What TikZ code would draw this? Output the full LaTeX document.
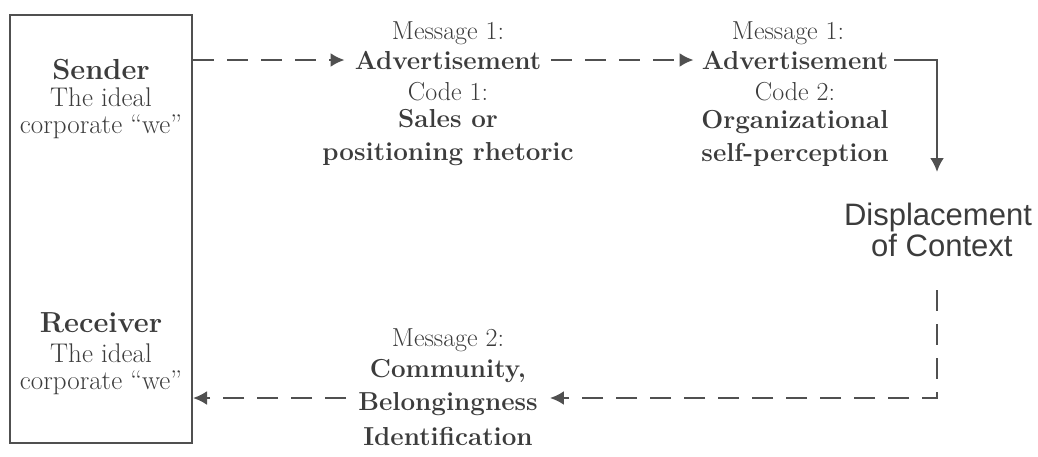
\documentclass[tikz,border=0pt]{standalone}
\usepackage{fontspec}
\setsansfont{Liberation Sans}
\usetikzlibrary{arrows.meta}
\definecolor{ink}{HTML}{3C3C3C}
\definecolor{linec}{HTML}{505050}
\begin{document}
\begin{tikzpicture}[x=1pt,y=-1pt,
  txt/.style={text=ink,font=\fontsize{26}{29}\selectfont,align=center,inner sep=0pt},
  btxt/.style={txt,font=\fontsize{26}{33}\selectfont\bfseries},
  hd/.style={txt,font=\fontsize{29}{30}\selectfont\bfseries},
  sub/.style={txt,font=\fontsize{27}{27}\selectfont},
  dsh/.style={draw=linec,line width=2.4pt,dash pattern=on 21pt off 13pt},
  sol/.style={draw=linec,line width=2.4pt},
  tip/.style={-{Latex[length=14pt,width=14pt]}}]
\useasboundingbox (0,0) rectangle (1038,456);
\node[draw=linec,line width=2pt,minimum width=182pt,minimum height=428pt,inner sep=0pt] (box) at (101,229) {};
\node[hd] (snd) at (101,70) {Sender};
\node[sub] (sndt) at (101,113) {The ideal\\corporate ``we''};
\node[hd] (rcv) at (101,323) {Receiver};
\node[sub] (rcvt) at (101,369) {The ideal\\corporate ``we''};
% block 1
\node[txt] (m1) at (448,33) {Message 1:};
\node[btxt] (a1) at (448,60) {Advertisement};
\node[txt] (c1) at (448,92) {Code 1:};
\node[btxt] (s1) at (448,138) {Sales or\\positioning rhetoric};
% block 2
\node[txt] (m2) at (788,33) {Message 1:};
\node[btxt] (a2) at (795,60) {Advertisement};
\node[txt] (c2) at (795,92) {Code 2:};
\node[btxt] (s2) at (795,138) {Organizational\\self-perception};
% displacement
\node[txt,font=\sffamily\fontsize{31}{31}\selectfont] (disp) at (938,230) {Displacement\\\hspace*{0.25em}of Context};
% message 2
\node[txt] (mm) at (448,340) {Message 2:};
\node[btxt] (cm) at (448,371) {Community,};
\node[btxt] (bl) at (448,404) {Belongingness};
\node[btxt] (id) at (448,436) {Identification};
\coordinate (tr) at (937,60);
\coordinate (dtop) at (937,172);
\coordinate (vb) at (937,290);
\coordinate (br) at (937,398);
% connectors
\draw[dsh,tip] (box.east |- a1) -- ([xshift=-10pt]a1.west);
\draw[dsh,tip] ([xshift=10pt]a1.east) -- ([xshift=-8pt]a2.west);
\draw[sol,tip] ([xshift=6pt]a2.east) -- (tr) -- (dtop);
\draw[dsh,tip] (vb) -- (br) -- ([xshift=12pt]bl.east |- br);
\draw[dsh,tip] ([xshift=-12pt]bl.west |- br) -- (box.east |- br);
\end{tikzpicture}
\end{document}
